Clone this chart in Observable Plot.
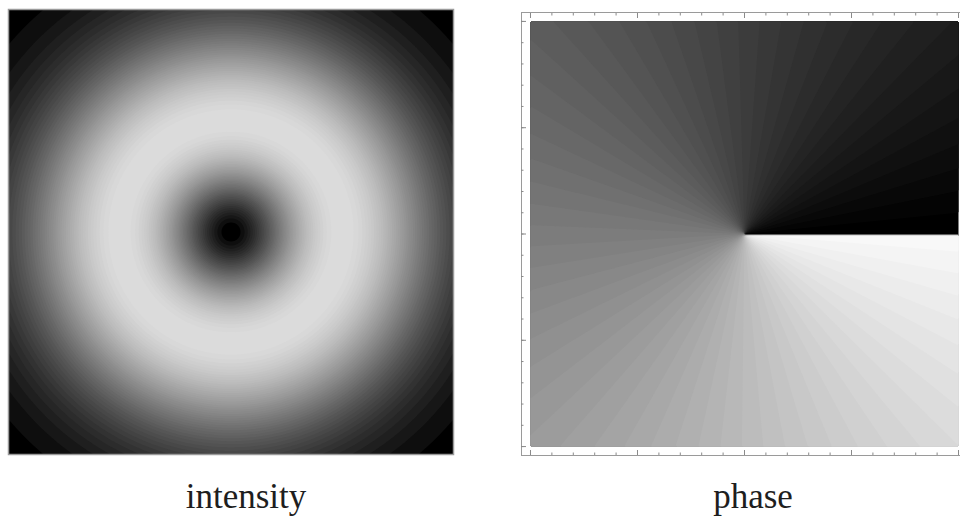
<!DOCTYPE html>
<html><head><meta charset="utf-8">
<script src="https://cdn.jsdelivr.net/npm/d3@7"></script>
<script src="https://cdn.jsdelivr.net/npm/@observablehq/plot@0.6"></script>
<style>
html,body{margin:0;padding:0;background:#fff;overflow:hidden;width:960px;height:518px}
#wrap{position:relative;width:960px;height:518px;overflow:hidden}
.panel{position:absolute}
.label{position:absolute;font-family:"Liberation Serif","Times New Roman",serif;font-size:35px;line-height:1;color:#1e1e1e;text-align:center;width:300px}
</style></head><body><div id="wrap"></div>
<script>
// ---- data ----
const panelTitles = ["intensity", "phase"];
const extent = [-10, 10];            // field of view (arbitrary units)
const ringRadius = [5];              // radius of the brightest ring
const topologicalCharge = [1];       // vortex charge l
const majorTicks = [-10, -5, 0, 5, 10];
const minorTicks = [-10, -9, -8, -7, -6, -5, -4, -3, -2, -1, 0, 1, 2, 3, 4, 5, 6, 7, 8, 9, 10];
const levels = [40, 63];             // contour bands: intensity, phase

const r0 = ringRadius[0], l = topologicalCharge[0];
const intensity = (x, y) => { const u = (x * x + y * y) / (r0 * r0); return Math.pow(u, Math.abs(l)) * Math.exp(Math.abs(l) * (1 - u)); };
const phase = (x, y) => { let t = l * Math.atan2(y, x); t = ((t % (2 * Math.PI)) + 2 * Math.PI) % (2 * Math.PI); return t; };

const wrap = document.getElementById("wrap");

// ---- intensity panel ----
const left = Plot.plot({
  width: 460, height: 460,
  marginLeft: 8, marginTop: 9, marginRight: 7, marginBottom: 6,
  x: {domain: extent, axis: null},
  y: {domain: extent, axis: null},
  color: {type: "pow", exponent: 0.7, domain: [0, 1], range: ["#000000", "#dedede"], clamp: true},
  marks: [
    Plot.contour({fill: intensity, x1: extent[0], y1: extent[0], x2: extent[1], y2: extent[1], thresholds: levels[0], stroke: "none"}),
    Plot.frame({stroke: "#9a9a9a", strokeWidth: 1.5})
  ]
});
left.classList.add("panel");
left.style.left = "0px"; left.style.top = "0px";
wrap.appendChild(left);

// ---- phase panel ----
const pad = 0.42;
const dom = [extent[0] - pad, extent[1] + pad];
const tickStyle = {stroke: "#8a8a8a", tickFormat: () => "", label: null};
const right = Plot.plot({
  width: 448, height: 445,
  marginLeft: 1, marginTop: 1, marginRight: 1, marginBottom: 1,
  x: {domain: dom, axis: null},
  y: {domain: dom, axis: null},
  color: {type: "linear", domain: [0, 2 * Math.PI], range: ["#000000", "#fbfbfb"]},
  marks: [
    Plot.contour({fill: phase, x1: extent[0], y1: extent[0], x2: extent[1], y2: extent[1], thresholds: levels[1], stroke: "none"}),
    Plot.frame({stroke: "#9a9a9a"}),
    ...["top", "bottom"].flatMap(a => [
      Plot.axisX(minorTicks, {anchor: a, tickSize: -2.5, ...tickStyle}),
      Plot.axisX(majorTicks, {anchor: a, tickSize: -5, ...tickStyle})
    ]),
    ...["left", "right"].flatMap(a => [
      Plot.axisY(minorTicks, {anchor: a, tickSize: -2.5, ...tickStyle}),
      Plot.axisY(majorTicks, {anchor: a, tickSize: -5, ...tickStyle})
    ])
  ]
});
right.classList.add("panel");
right.style.left = "520px"; right.style.top = "11px";
wrap.appendChild(right);

// ---- titles ----
const pos = [[246, 479], [753, 479]];
panelTitles.forEach((t, i) => {
  const d = document.createElement("div");
  d.className = "label";
  d.textContent = t;
  d.style.left = (pos[i][0] - 150) + "px";
  d.style.top = pos[i][1] + "px";
  wrap.appendChild(d);
});
</script></body></html>
